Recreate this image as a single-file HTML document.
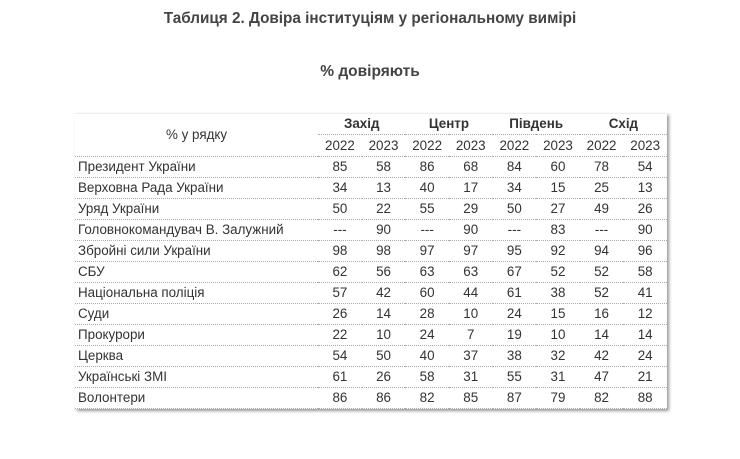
<!DOCTYPE html><html><head><meta charset="utf-8"><style>
body{margin:0;width:740px;height:459px;background:#fff;font-family:"Liberation Sans",Arial,sans-serif;color:#333;position:relative}
.t1{position:absolute;top:10px;left:0;width:740px;text-align:center;font-weight:bold;font-size:15.3px;color:#444}
.t2{position:absolute;top:63px;left:0;width:740px;text-align:center;font-weight:bold;font-size:15.5px;color:#444}
.box{position:absolute;left:75px;top:113px;width:592px;box-shadow:2px 2px 3px #999;border-top:1px solid #eee}
table{border-collapse:collapse;width:592px;font-size:13.4px;table-layout:fixed}
td{height:20px;padding:0;border-bottom:1px dotted #aaa;text-align:center;line-height:20px}
td.l{text-align:left;padding-left:3px}
.g{font-weight:bold}
</style></head><body>
<div class="t1">Таблиця 2. Довіра інституціям у регіональному вимірі</div>
<div class="t2">% довіряють</div>
<div class="box"><table>
<colgroup><col style="width:243px"><col span="8" style="width:43.6px"></colgroup>
<tr><td rowspan="2" style="height:42px">% у рядку</td><td colspan="2" class="g">Захід</td><td colspan="2" class="g">Центр</td><td colspan="2" class="g">Південь</td><td colspan="2" class="g">Схід</td></tr>
<tr><td>2022</td><td>2023</td><td>2022</td><td>2023</td><td>2022</td><td>2023</td><td>2022</td><td>2023</td></tr>
<tr><td class="l">Президент України</td><td>85</td><td>58</td><td>86</td><td>68</td><td>84</td><td>60</td><td>78</td><td>54</td></tr>
<tr><td class="l">Верховна Рада України</td><td>34</td><td>13</td><td>40</td><td>17</td><td>34</td><td>15</td><td>25</td><td>13</td></tr>
<tr><td class="l">Уряд України</td><td>50</td><td>22</td><td>55</td><td>29</td><td>50</td><td>27</td><td>49</td><td>26</td></tr>
<tr><td class="l">Головнокомандувач В. Залужний</td><td>---</td><td>90</td><td>---</td><td>90</td><td>---</td><td>83</td><td>---</td><td>90</td></tr>
<tr><td class="l">Збройні сили України</td><td>98</td><td>98</td><td>97</td><td>97</td><td>95</td><td>92</td><td>94</td><td>96</td></tr>
<tr><td class="l">СБУ</td><td>62</td><td>56</td><td>63</td><td>63</td><td>67</td><td>52</td><td>52</td><td>58</td></tr>
<tr><td class="l">Національна поліція</td><td>57</td><td>42</td><td>60</td><td>44</td><td>61</td><td>38</td><td>52</td><td>41</td></tr>
<tr><td class="l">Суди</td><td>26</td><td>14</td><td>28</td><td>10</td><td>24</td><td>15</td><td>16</td><td>12</td></tr>
<tr><td class="l">Прокурори</td><td>22</td><td>10</td><td>24</td><td>7</td><td>19</td><td>10</td><td>14</td><td>14</td></tr>
<tr><td class="l">Церква</td><td>54</td><td>50</td><td>40</td><td>37</td><td>38</td><td>32</td><td>42</td><td>24</td></tr>
<tr><td class="l">Українські ЗМІ</td><td>61</td><td>26</td><td>58</td><td>31</td><td>55</td><td>31</td><td>47</td><td>21</td></tr>
<tr><td class="l">Волонтери</td><td>86</td><td>86</td><td>82</td><td>85</td><td>87</td><td>79</td><td>82</td><td>88</td></tr>
</table></div>
</body></html>
